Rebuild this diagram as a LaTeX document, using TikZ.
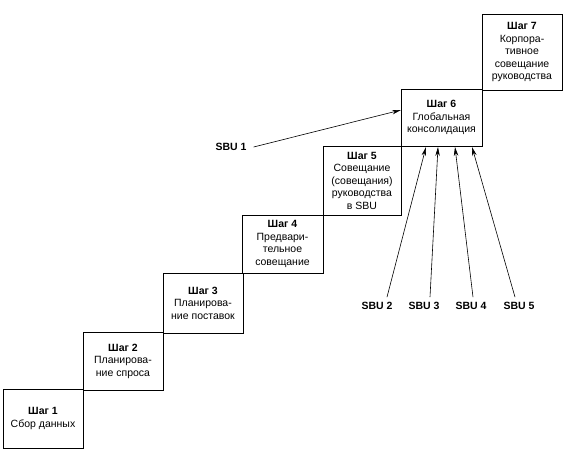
\documentclass[tikz,border=0pt]{standalone}
\usepackage{fontspec}
\setmainfont{Liberation Sans}
\usetikzlibrary{arrows.meta}
\begin{document}
\begin{tikzpicture}[x=1pt,y=-1pt,
  stepbox/.style={draw=black,line width=0.8pt,rectangle,inner sep=0pt,outer sep=0pt,
    align=center,font=\fontsize{10.5}{12.5}\selectfont},
  sbu/.style={font=\fontsize{10.5}{12}\selectfont\bfseries,inner sep=2pt},
  conn/.style={line width=0.6pt,-{Stealth[length=9pt,width=4.5pt]}}]
\useasboundingbox (0,0) rectangle (579,458);
\node[stepbox,minimum width=80pt,minimum height=59pt] (b1) at (43,418.5) {\textbf{Шаг 1}\\Сбор данных};
\node[stepbox,minimum width=80pt,minimum height=58pt] (b2) at (123,361) {\textbf{Шаг 2}\\Планирова-\\ние спроса};
\node[stepbox,minimum width=80pt,minimum height=60pt] (b3) at (203,303) {\textbf{Шаг 3}\\Планирова-\\ние поставок};
\node[stepbox,minimum width=81pt,minimum height=58pt] (b4) at (282.5,244) {\textbf{Шаг 4}\\Предвари-\\тельное\\совещание};
\node[stepbox,minimum width=78pt,minimum height=69pt] (b5) at (362,180.5) {\textbf{Шаг 5}\\Совещание\\(совещания)\\руководства\\в SBU};
\node[stepbox,minimum width=81pt,minimum height=57pt] (b6) at (441.5,117.5) {\textbf{Шаг 6}\\Глобальная\\консолидация};
\node[stepbox,minimum width=80pt,minimum height=76pt] (b7) at (522,52) {\textbf{Шаг 7}\\Корпора-\\тивное\\совещание\\руководства};
\node[sbu] (s1) at (231,147) {SBU 1};
\node[sbu] (s2) at (377,306) {SBU 2};
\node[sbu] (s3) at (424,306) {SBU 3};
\node[sbu] (s4) at (471,306) {SBU 4};
\node[sbu] (s5) at (519,306) {SBU 5};
\draw[conn] ([xshift=5pt]s1.east) -- ([yshift=7.5pt]b6.west);
\draw[conn] ([xshift=10pt,yshift=3pt]s2.north) -- ([xshift=-15.5pt,yshift=-1pt]b6.south);
\draw[conn] ([xshift=6pt,yshift=3pt]s3.north) -- ([xshift=-3.5pt,yshift=-1pt]b6.south);
\draw[conn] ([xshift=2pt,yshift=3pt]s4.north) -- ([xshift=13.5pt,yshift=-1pt]b6.south);
\draw[conn] ([xshift=-4pt,yshift=3pt]s5.north) -- ([xshift=30.5pt,yshift=-1pt]b6.south);
\end{tikzpicture}
\end{document}
